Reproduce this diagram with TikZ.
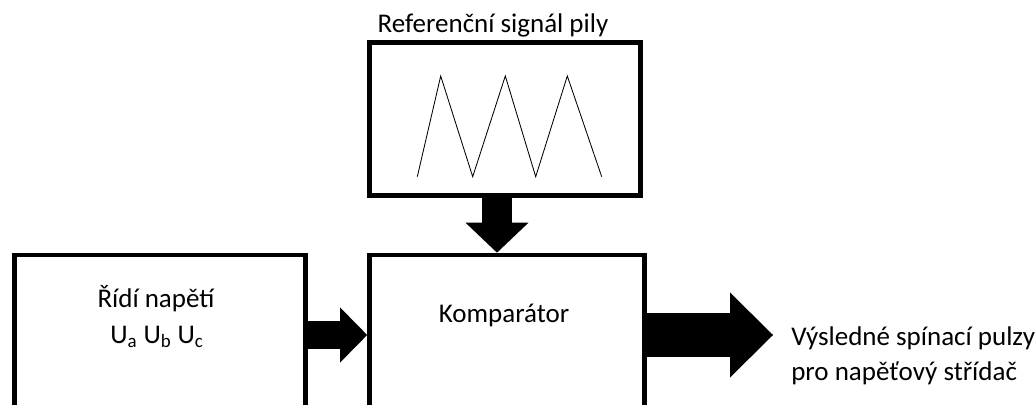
\documentclass[tikz,border=0pt]{standalone}
\usepackage{fontspec}
\setmainfont{Carlito}
\usepackage{tikz}
\usetikzlibrary{arrows.meta,calc,positioning}

\begin{document}
\begin{tikzpicture}[x=0.025cm,y=-0.025cm,
  blok/.style={draw,line width=0.115cm,inner sep=0pt},
  popis/.style={anchor=base,font=\fontsize{19.2}{24}\selectfont,inner sep=0pt}]
\clip (0,0) rectangle (1036,405);
\node[blok,minimum width=6.775cm,minimum height=3.825cm] (saw) at (505,119) {};
\node[blok,minimum width=6.875cm,minimum height=4cm] (komp) at (507,335) {};
\node[blok,minimum width=7.275cm,minimum height=4cm] (ridi) at (160,335) {};
\node[popis] (sawtext) at (493,33) {Referenční signál pily};
\node[popis] (komptext) at (504,322) {Komparátor};
\node[popis] (ridi1) at (156,307) {Řídí napětí};
\node[popis] (ridi2) at (157,343) {U\textsubscript{a} U\textsubscript{b} U\textsubscript{c}};
\node[popis,anchor=base west] (out1) at (791,345) {Výsledné spínací pulzy};
\node[popis,anchor=base west] (out2) at (791,380) {pro napěťový střídač};
\coordinate (outtip) at (773,335);
\draw[line width=0.6pt,line join=miter] (417.3,176.7) -- (440.7,76) -- (472.7,176.7) -- (505.3,76) -- (535.7,176.7) -- (567.3,76) -- (601.7,176.7);
\draw[line width=0.75cm,-{Triangle[width=1.575cm,length=0.75cm,line width=0pt]}] ($(saw.south)+(-8,0)$) -- ($(komp.north)+(-10,0)$);
\draw[line width=0.7cm,-{Triangle[width=1.375cm,length=0.675cm,line width=0pt]}] (ridi.east) -- (komp.west);
\draw[line width=1.1cm,-{Triangle[width=2.125cm,length=1.075cm,line width=0pt]}] (komp.east) -- (outtip);
\end{tikzpicture}
\end{document}
